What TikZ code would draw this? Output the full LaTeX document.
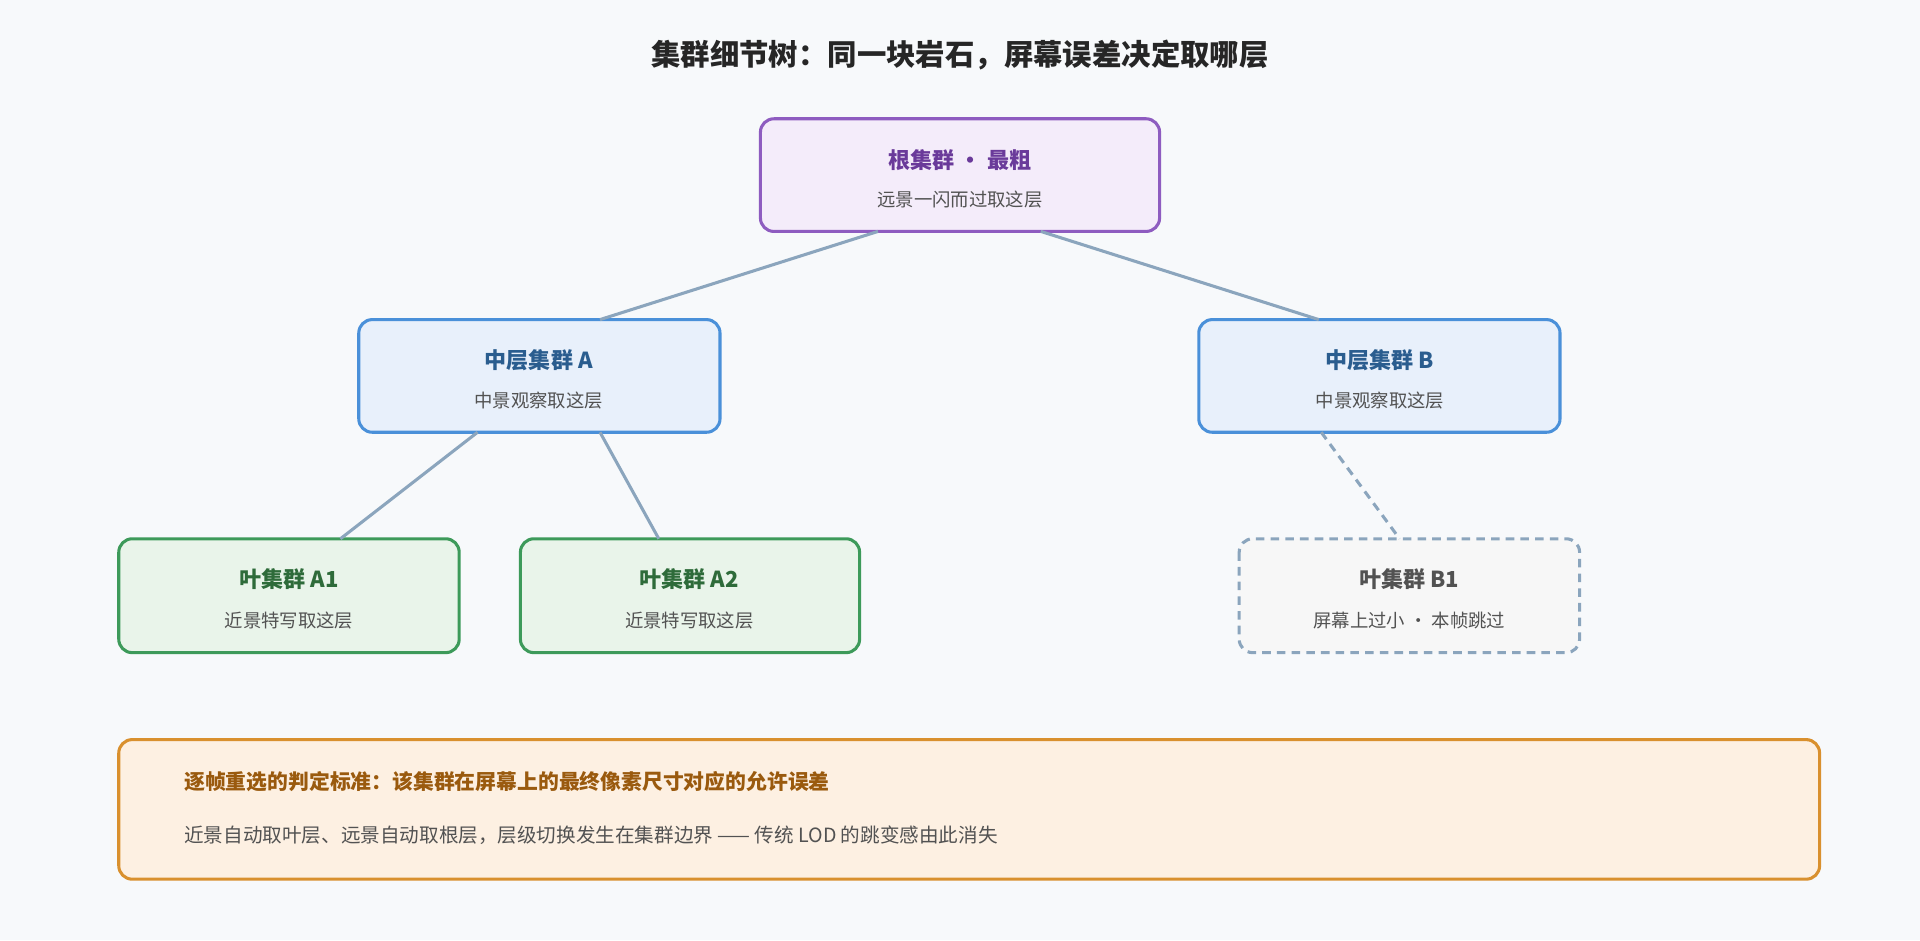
\documentclass[tikz,border=0pt]{standalone}
\usepackage{fontspec}
\setmainfont{Noto Sans CJK SC}
\begin{document}
\begin{tikzpicture}[x=1pt,y=-1pt,
 box/.style={draw,line width=2.5pt,rounded corners=11pt},
 ttl/.style={font=\fontsize{18}{20}\selectfont\bfseries},
 sub/.style={font=\fontsize{15}{17}\selectfont,text=black!68},
 edge/.style={draw=edgec,line width=2.5pt}]
\definecolor{bg}{HTML}{F7F9FB}
\definecolor{edgec}{HTML}{8BA5BD}
\definecolor{pb}{HTML}{8E5CC0}\definecolor{pf}{HTML}{F4ECFA}\definecolor{pt}{HTML}{6A3A9A}
\definecolor{bb}{HTML}{4A90D9}\definecolor{bf}{HTML}{E8F0FB}\definecolor{bt}{HTML}{2A5D8F}
\definecolor{gb}{HTML}{3D9A5A}\definecolor{gf}{HTML}{E9F4EA}\definecolor{gt}{HTML}{2E6B3A}
\definecolor{ob}{HTML}{D9902E}\definecolor{of}{HTML}{FDF0E2}\definecolor{ot}{HTML}{9A5A0E}
\fill[bg] (0,0) rectangle (1568,768);
\useasboundingbox (0,0) rectangle (1568,768);
\node[font=\fontsize{24}{28}\selectfont\bfseries,text=black!85] (title) at (784,45) {集群细节树：同一块岩石，屏幕误差决定取哪层};
% boxes
\draw[box,draw=pb,fill=pf] (621,97) rectangle (947,189);
\node[ttl,text=pt] (rt) at (784,131) {根集群 • 最粗};
\node[sub] (rs) at (784,163) {远景一闪而过取这层};
\draw[box,draw=bb,fill=bf] (293,261) rectangle (588,353);
\node[ttl,text=bt] (at) at (440,294) {中层集群 A};
\node[sub] (as) at (440,327) {中景观察取这层};
\draw[box,draw=bb,fill=bf] (979,261) rectangle (1274,353);
\node[ttl,text=bt] (bt) at (1127,294) {中层集群 B};
\node[sub] (bs) at (1127,327) {中景观察取这层};
\draw[box,draw=gb,fill=gf] (97,440) rectangle (375,533);
\node[ttl,text=gt] (a1) at (236,473) {叶集群 A1};
\node[sub] (a1s) at (236,507) {近景特写取这层};
\draw[box,draw=gb,fill=gf] (425,440) rectangle (702,533);
\node[ttl,text=gt] (a2) at (563,473) {叶集群 A2};
\node[sub] (a2s) at (563,507) {近景特写取这层};
\draw[box,draw=edgec,fill=black!3,dash pattern=on 7pt off 5pt] (1012,440) rectangle (1290,533);
\node[ttl,text=black!68] (b1) at (1151,473) {叶集群 B1};
\node[sub] (b1s) at (1151,507) {屏幕上过小 · 本帧跳过};
% edges
\coordinate (r1) at (717,189); \coordinate (r2) at (850,189);
\coordinate (ta) at (490,261); \coordinate (tb) at (1077,261);
\coordinate (aa) at (390,353); \coordinate (ab) at (490,353);
\coordinate (t1) at (278,440); \coordinate (t2) at (538,440);
\coordinate (bb1) at (1079,353); \coordinate (tb1) at (1143,440);
\draw[edge] (r1)--(ta); \draw[edge] (r2)--(tb);
\draw[edge] (aa)--(t1); \draw[edge] (ab)--(t2);
\draw[edge,dash pattern=on 7pt off 5pt] (bb1)--(tb1);
% bottom
\draw[box,draw=ob,fill=of] (97,604) rectangle (1486,718);
\node[anchor=west,font=\fontsize{17}{20}\selectfont\bfseries,text=ot] (n1) at (147,638) {逐帧重选的判定标准：该集群在屏幕上的最终像素尺寸对应的允许误差};
\node[anchor=west,font=\fontsize{16}{19}\selectfont,text=black!68] (n2) at (147,682) {近景自动取叶层、远景自动取根层，层级切换发生在集群边界 —— 传统 LOD 的跳变感由此消失};
\end{tikzpicture}
\end{document}
